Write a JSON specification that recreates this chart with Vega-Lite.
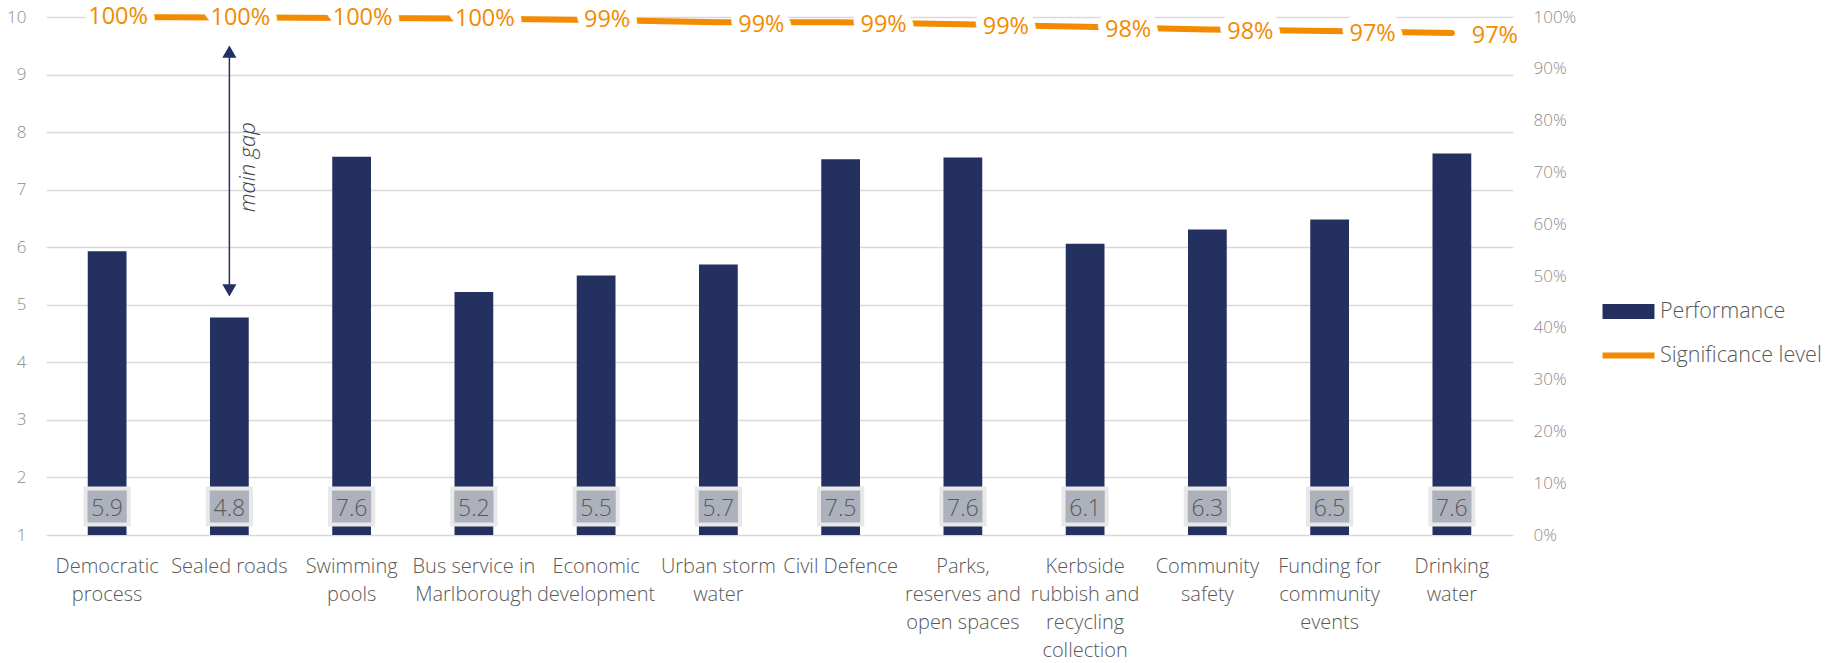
{
  "$schema": "https://vega.github.io/schema/vega-lite/v6.json",
  "width": 1467,
  "height": 518,
  "autosize": {"type": "none"},
  "padding": {"left": 46, "top": 17, "right": 335, "bottom": 128},
  "background": "white",
  "config": {
    "font": "Open Sans",
    "view": {"stroke": null},
    "axis": {"labelFont": "Open Sans", "labelFontWeight": 300},
    "legend": {"labelFont": "Open Sans", "labelFontWeight": 300}
  },
  "datasets": {
    "main": [
      {"service": "Democratic process", "perf": 5.93, "sig": 1.0},
      {"service": "Sealed roads", "perf": 4.78, "sig": 0.999},
      {"service": "Swimming pools", "perf": 7.57, "sig": 0.998},
      {"service": "Bus service in Marlborough", "perf": 5.22, "sig": 0.997},
      {"service": "Economic development", "perf": 5.51, "sig": 0.994},
      {"service": "Urban storm water", "perf": 5.70, "sig": 0.990},
      {"service": "Civil Defence", "perf": 7.53, "sig": 0.990},
      {"service": "Parks, reserves and open spaces", "perf": 7.56, "sig": 0.986},
      {"service": "Kerbside rubbish and recycling collection", "perf": 6.06, "sig": 0.981},
      {"service": "Community safety", "perf": 6.31, "sig": 0.976},
      {"service": "Funding for community events", "perf": 6.48, "sig": 0.973},
      {"service": "Drinking water", "perf": 7.63, "sig": 0.969}
    ],
    "gap": [
      {"service": "Sealed roads", "top": 9.40, "bottom": 5.25, "labelY": 7.39, "label": "main gap"}
    ]
  },
  "data": {"name": "main"},
  "encoding": {
    "x": {
      "field": "service",
      "type": "nominal",
      "sort": null,
      "scale": {
        "domain": ["Democratic process", "Sealed roads", "Swimming pools", "Bus service in Marlborough", "Economic development", "Urban storm water", "Civil Defence", "Parks, reserves and open spaces", "Kerbside rubbish and recycling collection", "Community safety", "Funding for community events", "Drinking water"],
        "paddingInner": 0,
        "paddingOuter": 0
      },
      "axis": {
        "title": null,
        "domain": false,
        "ticks": false,
        "labelAngle": 0,
        "labelFontSize": 20,
        "labelColor": "#595959",
        "labelLineHeight": 28,
        "labelBaseline": "top",
        "labelPadding": 21,
        "labelOverlap": false,
        "labelBound": false,
        "labelLimit": 300,
        "labelExpr": "{'Democratic process': ['Democratic', 'process'], 'Sealed roads': ['Sealed roads'], 'Swimming pools': ['Swimming', 'pools'], 'Bus service in Marlborough': ['Bus service in', 'Marlborough'], 'Economic development': ['Economic', 'development'], 'Urban storm water': ['Urban storm', 'water'], 'Civil Defence': ['Civil Defence'], 'Parks, reserves and open spaces': ['Parks,', 'reserves and', 'open spaces'], 'Kerbside rubbish and recycling collection': ['Kerbside', 'rubbish and', 'recycling', 'collection'], 'Community safety': ['Community', 'safety'], 'Funding for community events': ['Funding for', 'community', 'events'], 'Drinking water': ['Drinking', 'water']}[datum.value]"
      }
    }
  },
  "layer": [
    {
      "layer": [
        {
          "mark": {"type": "bar", "width": {"band": 0.317}},
          "encoding": {
            "y": {
              "field": "perf",
              "type": "quantitative",
              "scale": {"domain": [1, 10], "zero": false, "nice": false},
              "axis": {
                "title": null,
                "values": [1, 2, 3, 4, 5, 6, 7, 8, 9, 10],
                "format": "d",
                "grid": true,
                "gridColor": "#D9D9D9",
                "gridWidth": 1.5,
                "domain": false,
                "ticks": false,
                "labelColor": "#8C8C8C",
                "labelFontSize": 17,
                "labelPadding": 20
              }
            },
            "y2": {"datum": 1},
            "color": {
              "datum": "Performance",
              "type": "nominal",
              "scale": {"domain": ["Performance", "Significance level"], "range": ["#243060", "#F28B00"]},
              "legend": {
                "title": null,
                "orient": "none",
                "legendX": 1565,
                "legendY": 277,
                "padding": 0,
                "labelFontSize": 21.5,
                "labelColor": "#595959",
                "labelLimit": 400,
                "symbolSize": 1200,
                "symbolType": "M-1.5,-0.43H1.5V0.43H-1.5Z",
                "rowPadding": 16,
                "labelOffset": 14,
                "encode": {
                  "symbols": {
                    "update": {
                      "shape": {"signal": "datum.value === 'Performance' ? 'M-1.5,-0.43H1.5V0.43H-1.5Z' : 'M-1.5,-0.17H1.5V0.17H-1.5Z'"},
                      "fill": {"scale": "color", "field": "value"},
                      "stroke": {"value": "transparent"},
                      "strokeWidth": {"value": 0},
                      "opacity": {"value": 1}
                    }
                  }
                }
              }
            }
          }
        },
        {
          "mark": {"type": "point", "shape": "M-1.2,-1H1.2V1H-1.2Z", "size": 1296, "filled": true, "fill": "#ADB1BC", "stroke": "#E8E8E8", "strokeWidth": 4, "opacity": 1, "yOffset": -28.6},
          "encoding": {"y": {"datum": 1}}
        },
        {
          "mark": {"type": "text", "fontSize": 23, "fontWeight": 300, "fill": "#595959", "baseline": "middle", "yOffset": -26},
          "encoding": {
            "y": {"datum": 1},
            "text": {"field": "perf", "type": "quantitative", "format": ".1f"}
          }
        },
        {
          "data": {"name": "gap"},
          "mark": {"type": "rule", "color": "#243060", "strokeWidth": 1.5},
          "encoding": {
            "y": {"field": "top", "type": "quantitative"},
            "y2": {"field": "bottom"}
          }
        },
        {
          "data": {"name": "gap"},
          "mark": {"type": "point", "shape": "triangle-up", "filled": true, "fill": "#243060", "size": 200, "opacity": 1},
          "encoding": {"y": {"field": "top", "type": "quantitative"}}
        },
        {
          "data": {"name": "gap"},
          "mark": {"type": "point", "shape": "triangle-down", "filled": true, "fill": "#243060", "size": 200, "opacity": 1},
          "encoding": {"y": {"field": "bottom", "type": "quantitative"}}
        },
        {
          "data": {"name": "gap"},
          "mark": {"type": "text", "angle": 270, "fontStyle": "italic", "fontSize": 22, "fontWeight": 300, "fill": "#404040", "xOffset": 19, "baseline": "middle"},
          "encoding": {
            "y": {"field": "labelY", "type": "quantitative"},
            "text": {"field": "label"}
          }
        }
      ]
    },
    {
      "layer": [
        {
          "mark": {"type": "line", "strokeWidth": 6, "strokeCap": "round"},
          "encoding": {
            "y": {
              "field": "sig",
              "type": "quantitative",
              "scale": {"domain": [0, 1], "nice": false},
              "axis": {
                "title": null,
                "orient": "right",
                "values": [0, 0.1, 0.2, 0.3, 0.4, 0.5, 0.6, 0.7, 0.8, 0.9, 1],
                "format": ".0%",
                "grid": false,
                "domain": false,
                "ticks": false,
                "labelColor": "#8C8C8C",
                "labelFontSize": 17,
                "labelPadding": 20
              }
            },
            "color": {"datum": "Significance level", "type": "nominal"}
          }
        },
        {
          "transform": [{"filter": "indexof(['Democratic process', 'Sealed roads', 'Swimming pools', 'Bus service in Marlborough', 'Economic development'], datum.service) >= 0"}],
          "mark": {"type": "text", "fontSize": 23.5, "fill": "white", "stroke": "white", "strokeWidth": 16, "strokeJoin": "round", "dx": 11, "baseline": "middle"},
          "encoding": {
            "y": {"field": "sig", "type": "quantitative"},
            "text": {"field": "sig", "type": "quantitative", "format": ".0%"}
          }
        },
        {
          "transform": [{"filter": "indexof(['Democratic process', 'Sealed roads', 'Swimming pools', 'Bus service in Marlborough', 'Economic development'], datum.service) < 0"}],
          "mark": {"type": "text", "fontSize": 23.5, "fill": "white", "stroke": "white", "strokeWidth": 16, "strokeJoin": "round", "dx": 43, "dy": 3, "baseline": "middle"},
          "encoding": {
            "y": {"field": "sig", "type": "quantitative"},
            "text": {"field": "sig", "type": "quantitative", "format": ".0%"}
          }
        },
        {
          "transform": [{"filter": "indexof(['Democratic process', 'Sealed roads', 'Swimming pools', 'Bus service in Marlborough', 'Economic development'], datum.service) >= 0"}],
          "mark": {"type": "text", "fontSize": 23.5, "fill": "#F28B00", "dx": 11, "baseline": "middle"},
          "encoding": {
            "y": {"field": "sig", "type": "quantitative"},
            "text": {"field": "sig", "type": "quantitative", "format": ".0%"}
          }
        },
        {
          "transform": [{"filter": "indexof(['Democratic process', 'Sealed roads', 'Swimming pools', 'Bus service in Marlborough', 'Economic development'], datum.service) < 0"}],
          "mark": {"type": "text", "fontSize": 23.5, "fill": "#F28B00", "dx": 43, "dy": 3, "baseline": "middle"},
          "encoding": {
            "y": {"field": "sig", "type": "quantitative"},
            "text": {"field": "sig", "type": "quantitative", "format": ".0%"}
          }
        }
      ]
    }
  ],
  "resolve": {"scale": {"y": "independent"}}
}
